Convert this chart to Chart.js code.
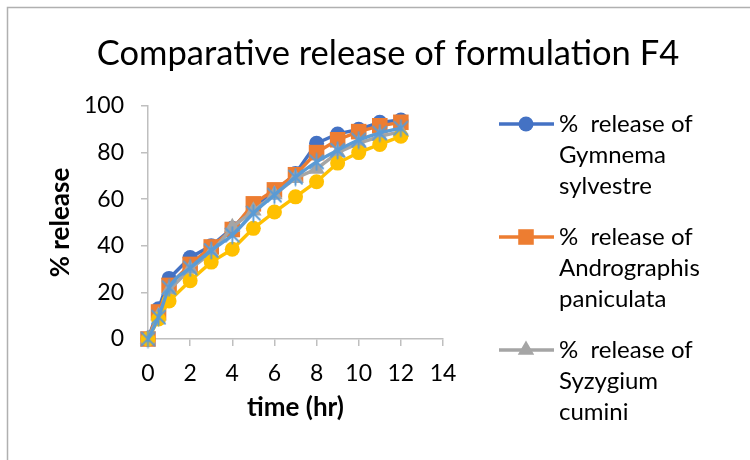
<!DOCTYPE html>
<html>
<head>
<meta charset="utf-8">
<script src="https://cdn.jsdelivr.net/npm/chart.js@4"></script>
<style>
  html, body { margin: 0; padding: 0; background: #fff; }
  #wrap { position: relative; width: 750px; height: 460px; }
</style>
</head>
<body>
<div id="wrap"><canvas id="c" width="750" height="460"></canvas></div>
<script>
// Sampling times (hr) and cumulative % release for each extract
const timeHr = [0, 0.5, 1, 2, 3, 4, 5, 6, 7, 8, 9, 10, 11, 12];
const gymnema = [0, 13, 26, 35, 40, 47.5, 57, 63, 71, 84, 88, 90, 93, 94];
const andrographis = [0, 11.6, 23, 32, 39.5, 47, 58, 64, 70.5, 80, 85.5, 89, 91.5, 93];
const syzygium = [0, 10, 21, 30, 37, 48, 55, 62, 69, 73, 80, 84, 87, 89];
const series4 = [0, 8.6, 16.3, 25, 33, 38.5, 47.5, 54.5, 61, 67.5, 75.5, 80, 83.5, 87];
const series5 = [0, 9.4, 22, 30.5, 38, 44.6, 54, 61.8, 69.5, 76, 81, 85.4, 88.4, 90.5];

const seriesNames = [
  '%  release of Gymnema sylvestre',
  '%  release of Andrographis paniculata',
  '%  release of Syzygium cumini',
  'Series 4',
  'Series 5'
];
const xTicks = [0, 2, 4, 6, 8, 10, 12, 14];
const yTicks = [0, 20, 40, 60, 80, 100];

const FONT = 'Lato, "Open Sans", "Liberation Sans", sans-serif';
const AXIS_GREY = '#bfbfbf';

// asterisk-style marker: an X crossed by a vertical bar
function starMarker(color) {
  const s = 19, cv = document.createElement('canvas');
  cv.width = s; cv.height = s;
  const g = cv.getContext('2d');
  g.strokeStyle = color; g.lineWidth = 1.9; g.lineCap = 'round';
  g.beginPath();
  g.moveTo(3, 3); g.lineTo(s - 3, s - 3);
  g.moveTo(s - 3, 3); g.lineTo(3, s - 3);
  g.moveTo(s / 2, 1.5); g.lineTo(s / 2, s - 1.5);
  g.stroke();
  return cv;
}

const pts = vals => vals.map((v, i) => ({ x: timeHr[i], y: v }));

const styles = [
  { color: '#4472C4', pointStyle: 'circle', r: 7.5, tension: 0 },
  { color: '#ED7D31', pointStyle: 'rect', r: 11, tension: 0 },
  { color: '#A5A5A5', pointStyle: 'triangle', r: 9.5, tension: 0 },
  { color: '#FFC000', pointStyle: 'circle', r: 7.5, tension: 0 },
  { color: '#5B9BD5', pointStyle: starMarker('#5B9BD5'), r: 9.5, tension: 0.4 }
];
const allSeries = [gymnema, andrographis, syzygium, series4, series5];

const datasets = allSeries.map((vals, i) => ({
  label: seriesNames[i],
  data: pts(vals),
  borderColor: styles[i].color,
  backgroundColor: styles[i].color,
  borderWidth: 3.4,
  pointStyle: styles[i].pointStyle,
  pointRadius: styles[i].r,
  pointBorderWidth: 0,
  pointBackgroundColor: styles[i].color,
  tension: styles[i].tension,
  cubicInterpolationMode: i === 4 ? 'monotone' : 'default',
  clip: false,
  order: allSeries.length - i
}));

// wrap a label into lines no wider than maxW, keeping double spaces
function wrapLabel(ctx, text, maxW) {
  const words = text.split(' ');
  const lines = [];
  let cur = null;
  words.forEach(w => {
    if (cur === null) { cur = w; return; }
    const test = cur + ' ' + w;
    if (w !== '' && ctx.measureText(test).width > maxW) { lines.push(cur); cur = w; }
    else cur = test;
  });
  if (cur !== null) lines.push(cur);
  return lines;
}

// frame, title and the wrapped legend on the right
const decor = {
  id: 'decor',
  beforeDraw(chart) {
    const ctx = chart.ctx;
    ctx.save();
    ctx.fillStyle = '#fff';
    ctx.fillRect(0, 0, chart.width, chart.height);
    ctx.strokeStyle = '#b0b0b0';
    ctx.lineWidth = 1.5;
    ctx.beginPath();
    ctx.moveTo(7.5, chart.height); ctx.lineTo(7.5, 7.5); ctx.lineTo(chart.width, 7.5);
    ctx.stroke();
    ctx.restore();
  },
  afterDraw(chart) {
    const ctx = chart.ctx;
    ctx.save();
    ctx.fillStyle = '#000';
    ctx.font = '34.5px ' + FONT;
    ctx.textAlign = 'center';
    ctx.textBaseline = 'middle';
    ctx.fillText('Comparative release of formulation F4', 388, 54);

    // legend: entries are dropped once they no longer fit in the frame
    ctx.font = '24px ' + FONT;
    ctx.textAlign = 'left';
    ctx.textBaseline = 'middle';
    const lineH = 31, after = 51, maxW = 150, limit = 450;
    let rowY = 124;
    let stop = false;
    chart.data.datasets.forEach((ds, i) => {
      if (stop) return;
      const lines = wrapLabel(ctx, ds.label, maxW);
      const blockBottom = rowY + (lines.length - 1) * lineH + lineH / 2;
      if (blockBottom > limit) { stop = true; return; }
      const st = styles[i];
      ctx.strokeStyle = st.color;
      ctx.lineWidth = 3.4;
      ctx.beginPath(); ctx.moveTo(499, rowY); ctx.lineTo(554, rowY); ctx.stroke();
      ctx.fillStyle = st.color;
      Chart.helpers.drawPoint(ctx, { pointStyle: st.pointStyle, radius: st.r, rotation: 0, borderWidth: 0 }, 526, rowY);
      ctx.fillStyle = '#000';
      lines.forEach((ln, k) => ctx.fillText(ln, 559, rowY + k * lineH));
      rowY += (lines.length - 1) * lineH + after;
    });
    ctx.restore();
  }
};

new Chart(document.getElementById('c'), {
  type: 'line',
  data: { datasets },
  options: {
    responsive: false,
    animation: false,
    layout: { padding: { left: 40, top: 106, right: 307, bottom: 10 } },
    plugins: { legend: { display: false }, tooltip: { enabled: false }, title: { display: false } },
    scales: {
      x: {
        type: 'linear', min: 0, max: 14,
        afterBuildTicks: s => { s.ticks = xTicks.map(v => ({ value: v })); },
        afterFit: s => { s.height = 111; },
        ticks: { color: '#000', font: { family: FONT, size: 23 }, padding: 14, maxRotation: 0 },
        grid: { drawOnChartArea: false, drawTicks: true, tickLength: 7, color: AXIS_GREY, lineWidth: 1.5 },
        border: { color: AXIS_GREY, width: 1.5 },
        title: { display: true, text: 'time (hr)', color: '#000', font: { family: FONT, size: 26, weight: 'bold' }, padding: { top: 0, bottom: 27 } }
      },
      y: {
        type: 'linear', min: 0, max: 100,
        afterBuildTicks: s => { s.ticks = yTicks.map(v => ({ value: v })); },
        afterFit: s => { s.width = 108; },
        ticks: { color: '#000', font: { family: FONT, size: 23 }, padding: 17 },
        grid: { drawOnChartArea: false, drawTicks: true, tickLength: 7, color: AXIS_GREY, lineWidth: 1.5 },
        border: { color: AXIS_GREY, width: 1.5 },
        title: { display: true, text: '% release', color: '#000', font: { family: FONT, size: 26, weight: 'bold' }, padding: { top: 5, bottom: 0 } }
      }
    }
  },
  plugins: [decor]
});
</script>
</body>
</html>
